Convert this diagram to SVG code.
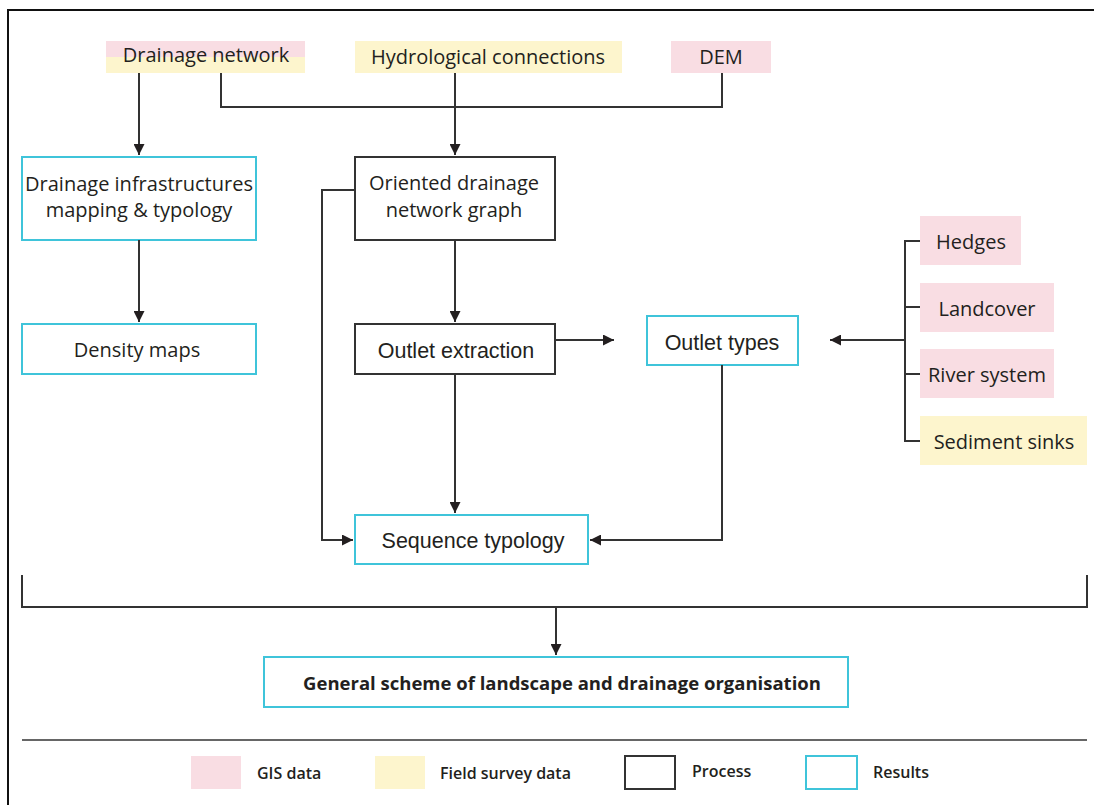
<svg xmlns="http://www.w3.org/2000/svg" width="1094" height="805" viewBox="0 0 1094 805">
<style>
.t{font-family:"Open Sans","Noto Sans",sans-serif;font-size:20px;fill:#231f20;text-anchor:middle}
.h{font-family:"Liberation Sans",Arial,sans-serif;font-size:21.5px;fill:#231f20;text-anchor:middle}
.l{font-family:"Open Sans","Noto Sans",sans-serif;font-size:16px;font-weight:600;fill:#231f20}
.b{font-family:"Open Sans","Noto Sans",sans-serif;font-size:18.5px;font-weight:bold;fill:#231f20;text-anchor:middle}
.pink{fill:#f9dde3}
.yel{fill:#fdf5cd}
.proc{fill:#fff;stroke:#333;stroke-width:2}
.res{fill:#fff;stroke:#3fc4da;stroke-width:2}
.c{fill:none;stroke:#333;stroke-width:2}
</style>
<defs>
<marker id="ah" viewBox="0 0 10 10" refX="10" refY="5" markerWidth="5.5" markerHeight="5.5" orient="auto" markerUnits="strokeWidth">
<path d="M0,0 L10,5 L0,10 z" fill="#231f20"/>
</marker>
</defs>
<rect width="1094" height="805" fill="#fff"/>
<path d="M8,805 V10 H1094" fill="none" stroke="#111" stroke-width="2"/>

<g id="drainage-network">
<rect x="106" y="41" width="199" height="16" class="pink"/>
<rect x="106" y="57" width="199" height="16" class="yel"/>
<text x="206" y="62" class="t">Drainage network</text>
</g>
<g id="hydrological-connections">
<rect x="355" y="41" width="267" height="32" class="yel"/>
<text x="488" y="64" class="t">Hydrological connections</text>
</g>
<g id="dem">
<rect x="671" y="41" width="100" height="32" class="pink"/>
<text x="721" y="64" class="t">DEM</text>
</g>
<g id="drainage-infrastructures">
<rect x="22" y="157" width="234" height="83" class="res"/>
<text x="139" y="191" class="t">Drainage infrastructures</text>
<text x="139" y="217" class="t">mapping &amp; typology</text>
</g>
<g id="density-maps">
<rect x="22" y="324" width="234" height="50" class="res"/>
<text x="137" y="357" class="t">Density maps</text>
</g>
<g id="oriented-graph">
<rect x="355" y="157" width="200" height="83" class="proc"/>
<text x="454" y="190" class="t">Oriented drainage</text>
<text x="454" y="217" class="t">network graph</text>
</g>
<g id="outlet-extraction">
<rect x="355" y="324" width="200" height="50" class="proc"/>
<text x="456" y="358" class="h">Outlet extraction</text>
</g>
<g id="outlet-types">
<rect x="647" y="316" width="151" height="49" class="res"/>
<text x="722" y="350" class="h">Outlet types</text>
</g>
<g id="sequence-typology">
<rect x="355" y="515" width="233" height="49" class="res"/>
<text x="473" y="548" class="h">Sequence typology</text>
</g>
<g id="hedges">
<rect x="920" y="216" width="101" height="49" class="pink"/>
<text x="971" y="249" class="t">Hedges</text>
</g>
<g id="landcover">
<rect x="920" y="283" width="134" height="49" class="pink"/>
<text x="987" y="316" class="t">Landcover</text>
</g>
<g id="river-system">
<rect x="920" y="349" width="134" height="49" class="pink"/>
<text x="987" y="382" class="t">River system</text>
</g>
<g id="sediment-sinks">
<rect x="920" y="416" width="167" height="49" class="yel"/>
<text x="1004" y="449" class="t">Sediment sinks</text>
</g>
<g id="general-scheme">
<rect x="264" y="657" width="584" height="50" class="res"/>
<text x="562" y="690" class="b">General scheme of landscape and drainage organisation</text>
</g>

<g id="connectors">
<path d="M139,73 V155" class="c" marker-end="url(#ah)"/>
<path d="M221,73 V107 H722 V73" class="c"/>
<path d="M455,73 V155" class="c" marker-end="url(#ah)"/>
<path d="M139,240 V322" class="c" marker-end="url(#ah)"/>
<path d="M455,240 V322" class="c" marker-end="url(#ah)"/>
<path d="M355,190 H322 V540 H353" class="c" marker-end="url(#ah)"/>
<path d="M555,340 H614" class="c" marker-end="url(#ah)"/>
<path d="M455,374 V513" class="c" marker-end="url(#ah)"/>
<path d="M722,365 V540 H590" class="c" marker-end="url(#ah)"/>
<path d="M920,241 H905 V441 H920 M905,307 H920 M905,374 H920" class="c"/>
<path d="M905,340 H830" class="c" marker-end="url(#ah)"/>
<path d="M22,575 V607 H1087 V575" class="c"/>
<path d="M556,607 V655" class="c" marker-end="url(#ah)"/>
</g>

<g id="legend">
<line x1="22" y1="740" x2="1087" y2="740" stroke="#333" stroke-width="1.5"/>
<rect x="191" y="756" width="50" height="33" class="pink"/>
<text x="257" y="779" class="l">GIS data</text>
<rect x="375" y="756" width="50" height="33" class="yel"/>
<text x="440" y="779" class="l">Field survey data</text>
<rect x="625" y="756" width="50" height="33" class="proc"/>
<text x="692" y="777" class="l">Process</text>
<rect x="806" y="756" width="51" height="33" class="res"/>
<text x="873" y="778" class="l">Results</text>
</g>
</svg>
